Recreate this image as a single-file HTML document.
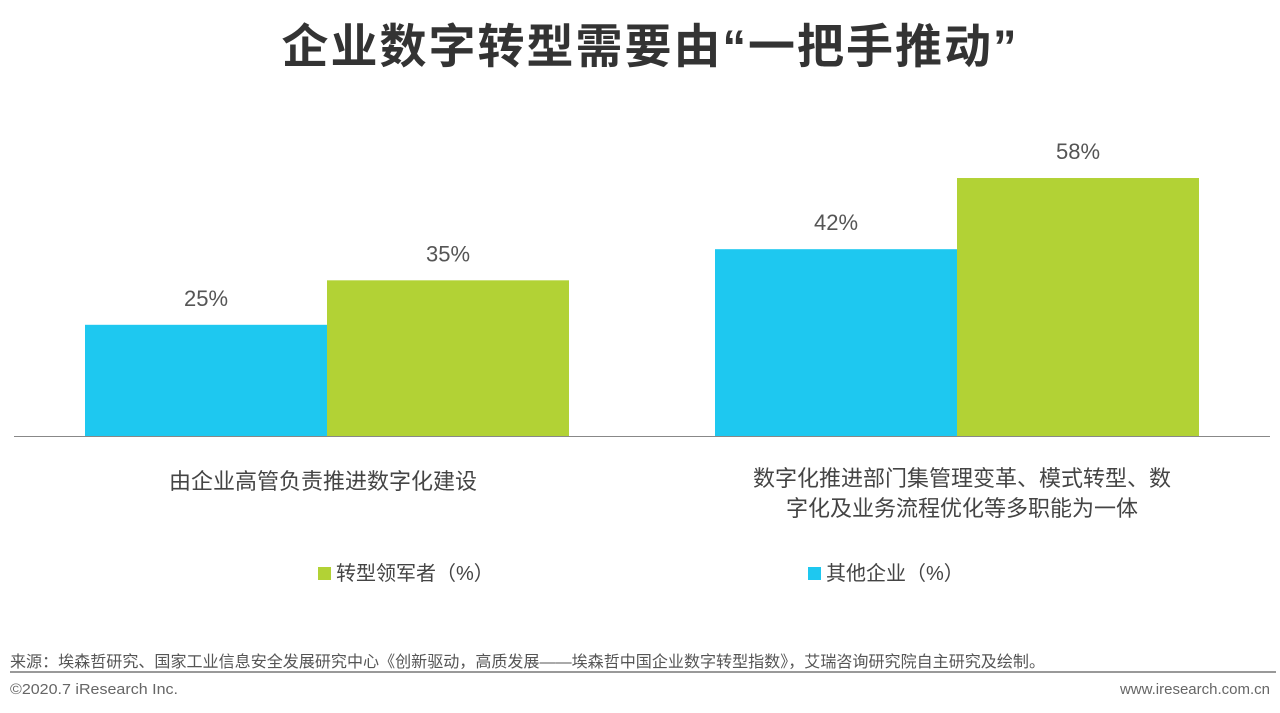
<!DOCTYPE html>
<html><head><meta charset="utf-8"><style>
body{margin:0;width:1280px;height:713px;background:#fff;overflow:hidden;font-family:"Liberation Sans","Noto Sans CJK SC",sans-serif;}
</style></head><body>
<svg width="1280" height="713" xmlns="http://www.w3.org/2000/svg" style="position:absolute;left:0;top:0">
<text x="650" y="63" text-anchor="middle" font-size="47" font-weight="bold" fill="#333" letter-spacing="2" font-family="Liberation Sans, Noto Sans CJK SC, sans-serif">企业数字转型需要由“一把手推动”</text>
<g id="bars"></g>
<line x1="14" y1="436.5" x2="1270" y2="436.5" stroke="#888" stroke-width="1"/>
<text x="323" y="489" text-anchor="middle" font-size="22" fill="#444">由企业高管负责推进数字化建设</text>
<text x="962" y="486" text-anchor="middle" font-size="22" fill="#444">数字化推进部门集管理变革、模式转型、数</text>
<text x="962" y="516" text-anchor="middle" font-size="22" fill="#444">字化及业务流程优化等多职能为一体</text>
<rect x="318" y="567" width="13" height="13" fill="#b2d235"/>
<text x="336" y="580" font-size="20" fill="#444">转型领军者（%）</text>
<rect x="808" y="567" width="13" height="13" fill="#1ec8f0"/>
<text x="826" y="580" font-size="20" fill="#444">其他企业（%）</text>
<text x="10" y="667" font-size="16" fill="#555" textLength="1035" lengthAdjust="spacingAndGlyphs">来源：埃森哲研究、国家工业信息安全发展研究中心《创新驱动，高质发展——埃森哲中国企业数字转型指数》，艾瑞咨询研究院自主研究及绘制。</text>
<line x1="10" y1="672" x2="1276" y2="672" stroke="#999" stroke-width="2"/>
<text x="10" y="694" font-size="15" fill="#666" textLength="168" lengthAdjust="spacingAndGlyphs">©2020.7 iResearch Inc.</text>
<text x="1270" y="694" font-size="15" fill="#666" text-anchor="end">www.iresearch.com.cn</text>
</svg>
<script>
const categories=["由企业高管负责推进数字化建设","数字化推进部门集管理变革、模式转型、数字化及业务流程优化等多职能为一体"];
const othersValues=[25,42];
const leadersValues=[35,58];
const groupCenters=[327,957];
const baseY=436, pxPer=4.448, barW=242;
function y(v){return baseY-v*pxPer;}
const g=document.getElementById('bars');
const NS='http://www.w3.org/2000/svg';
function addBar(x,v,color,name){
  const r=document.createElementNS(NS,'rect');
  r.setAttribute('x',x);r.setAttribute('y',y(v));r.setAttribute('width',barW);r.setAttribute('height',baseY-y(v));r.setAttribute('fill',color);
  
  
  g.appendChild(r);
  const t=document.createElementNS(NS,'text');
  t.setAttribute('x',x+barW/2);t.setAttribute('y',y(v)-19);t.setAttribute('text-anchor','middle');t.setAttribute('font-size','22');t.setAttribute('fill','#555');
  t.textContent=v+'%';
  
  
  g.appendChild(t);
}
categories.forEach((c,i)=>{
  addBar(groupCenters[i]-barW,othersValues[i],'#1ec8f0','bar-others-'+(i+1));
  addBar(groupCenters[i],leadersValues[i],'#b2d235','bar-leaders-'+(i+1));
});
</script>
</body></html>
